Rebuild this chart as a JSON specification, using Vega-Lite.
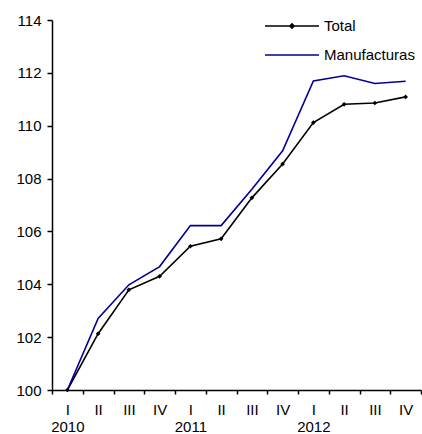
{
  "$schema": "https://vega.github.io/schema/vega-lite/v6.json",
  "autosize": "none",
  "width": 369,
  "height": 370,
  "padding": {"left": 52, "top": 20, "right": 1, "bottom": 44},
  "background": "white",
  "config": {
    "view": {"stroke": null},
    "font": "Liberation Sans",
    "axis": {"labelFont": "Liberation Sans", "labelFontSize": 15, "labelFontWeight": "normal", "labelColor": "black", "domainColor": "black", "tickColor": "black", "domainWidth": 1.5, "tickWidth": 1.5, "grid": false, "title": null}
  },
  "data": {
    "values": [
      {"q": "2010 I", "series": "Total", "value": 100.0},
      {"q": "2010 II", "series": "Total", "value": 102.13},
      {"q": "2010 III", "series": "Total", "value": 103.79},
      {"q": "2010 IV", "series": "Total", "value": 104.3},
      {"q": "2011 I", "series": "Total", "value": 105.44},
      {"q": "2011 II", "series": "Total", "value": 105.72},
      {"q": "2011 III", "series": "Total", "value": 107.27},
      {"q": "2011 IV", "series": "Total", "value": 108.55},
      {"q": "2012 I", "series": "Total", "value": 110.12},
      {"q": "2012 II", "series": "Total", "value": 110.81},
      {"q": "2012 III", "series": "Total", "value": 110.86},
      {"q": "2012 IV", "series": "Total", "value": 111.09},
      {"q": "2010 I", "series": "Manufacturas", "value": 100.0},
      {"q": "2010 II", "series": "Manufacturas", "value": 102.71},
      {"q": "2010 III", "series": "Manufacturas", "value": 103.98},
      {"q": "2010 IV", "series": "Manufacturas", "value": 104.67},
      {"q": "2011 I", "series": "Manufacturas", "value": 106.22},
      {"q": "2011 II", "series": "Manufacturas", "value": 106.22},
      {"q": "2011 III", "series": "Manufacturas", "value": 107.6},
      {"q": "2011 IV", "series": "Manufacturas", "value": 109.05},
      {"q": "2012 I", "series": "Manufacturas", "value": 111.69},
      {"q": "2012 II", "series": "Manufacturas", "value": 111.89},
      {"q": "2012 III", "series": "Manufacturas", "value": 111.6},
      {"q": "2012 IV", "series": "Manufacturas", "value": 111.68}
    ]
  },
  "encoding": {
    "x": {
      "field": "q", "type": "ordinal", "sort": null,
      "scale": {"type": "band", "paddingInner": 0, "paddingOuter": 0},
      "axis": {
        "labelAngle": 0, "tickBand": "extent", "tickSize": 4, "labelPadding": 8,
        "labelLineHeight": 17, "labelBaseline": "top",
        "labelExpr": "split(datum.value, ' ')[1] === 'I' ? ['I', split(datum.value, ' ')[0]] : split(datum.value, ' ')[1]"
      }
    },
    "y": {
      "field": "value", "type": "quantitative",
      "scale": {"domain": [100, 114], "nice": false, "zero": false},
      "axis": {"values": [100, 102, 104, 106, 108, 110, 112, 114], "tickSize": 5, "labelPadding": 6}
    }
  },
  "layer": [
    {
      "mark": {"type": "line", "strokeWidth": 1.6},
      "encoding": {
        "color": {
          "field": "series", "type": "nominal",
          "scale": {"domain": ["Total", "Manufacturas"], "range": ["black", "#000099"]},
          "legend": {
            "title": null, "orient": "none", "legendX": 212, "legendY": -4,
            "padding": 0, "clipHeight": 20, "rowPadding": 9,
            "symbolType": "M-1,0H1", "symbolSize": 2916, "symbolStrokeWidth": 1.6,
            "labelOffset": 4, "labelFont": "Liberation Sans", "labelFontSize": 15, "labelColor": "black",
            "encode": {
              "symbols": {
                "update": {
                  "shape": {"signal": "datum.value === 'Total' ? 'M-1,0H1M-0.08,0L0,-0.08L0.08,0L0,0.08Z' : 'M-1,0H1'"},
                  "fill": {"signal": "datum.value === 'Total' ? 'black' : 'transparent'"}
                }
              }
            }
          }
        }
      }
    },
    {
      "transform": [{"filter": "datum.series === 'Total'"}],
      "mark": {"type": "point", "shape": "diamond", "filled": true, "size": 22, "color": "black", "opacity": 1}
    }
  ]
}
